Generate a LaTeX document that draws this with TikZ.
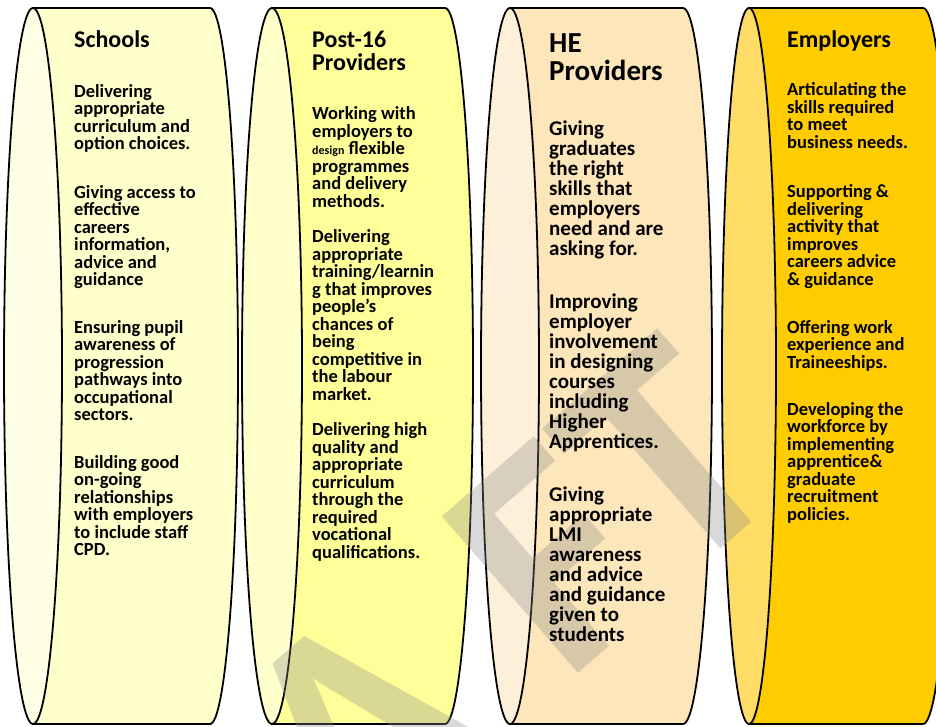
\documentclass[tikz,border=0pt]{standalone}
\usepackage{fontspec}
\setmainfont{Carlito}
\usepackage{xcolor}
\definecolor{schoolBody}{HTML}{FFFFCC}
\definecolor{schoolCap}{HTML}{FFFFE6}
\definecolor{postBody}{HTML}{FFFF99}
\definecolor{postCap}{HTML}{FFFFCC}
\definecolor{heBody}{HTML}{FDE6BA}
\definecolor{heCap}{HTML}{FEF0D8}
\definecolor{empBody}{HTML}{FFCC00}
\definecolor{empCap}{HTML}{FFDC66}
\usepackage{tikz}

\begin{document}
\begin{tikzpicture}[x=1pt, y=-1pt,
    drum/.style={draw=black, line width=1.8pt},
    head/.style={anchor=base west, inner sep=0pt, align=left, font=\bfseries\fontsize{24}{22.5}\selectfont},
    duty/.style={anchor=base west, inner sep=0pt, align=left, font=\bfseries\fontsize{18.5}{17.5}\selectfont},
    bigduty/.style={duty, font=\bfseries\fontsize{21}{20}\selectfont}]
    \clip (0,0) rectangle (936,726);

    % Schools drum
    \path[drum, fill=schoolBody] (33,8) -- (210,8) arc[start angle=-90, end angle=90, x radius=28, y radius=358] -- (33,724) -- cycle;
    \path[drum, fill=schoolCap] (33,366) ellipse[x radius=29, y radius=358];

    % Post-16 drum
    \path[drum, fill=postBody] (272,8) -- (445,8) arc[start angle=-90, end angle=90, x radius=28, y radius=358] -- (272,724) -- cycle;
    \path[drum, fill=postCap] (272,366) ellipse[x radius=30, y radius=358];

    % HE drum
    \path[drum, fill=heBody] (510,8) -- (683,8) arc[start angle=-90, end angle=90, x radius=29, y radius=358] -- (510,724) -- cycle;
    \path[drum, fill=heCap] (510,366) ellipse[x radius=29, y radius=358];

    % Employers drum (runs off the right edge)
    \path[drum, fill=empBody] (749,8) -- (923,8) arc[start angle=-90, end angle=90, x radius=29, y radius=358] -- (749,724) -- cycle;
    \path[drum, fill=empCap] (749,366) ellipse[x radius=27, y radius=358];

    % watermark, letters spread out
    \node[anchor=north west, inner sep=0pt, rotate=41, text=black!45, text opacity=0.33,
          font=\bfseries\fontsize{320}{320}\selectfont] (draft) at (-164,1043) {D\kern60pt R\kern60pt A\kern90pt FT};

    % Schools (nodes sit on the baseline of their last line)
    \node[head] (schoolsHead) at (74,47) {Schools};
    \node[duty] (schools1) at (74,149.5) {Delivering\\appropriate\\curriculum and\\option choices.};
    \node[duty] (schools2) at (74,285.5) {Giving access to\\effective\\careers\\information,\\advice and\\guidance};
    \node[duty] (schools3) at (74,420.5) {Ensuring pupil\\awareness of\\progression\\pathways into\\occupational\\sectors.};
    \node[duty] (schools4) at (74,555.5) {Building good\\on-going\\relationships\\with employers\\to include staff\\CPD.};

    % Post-16
    \node[head] (postHead) at (312,70) {Post-16\\Providers};
    \node[duty] (post1) at (312,207) {Working with\\employers to\\{\fontsize{12}{12}\selectfont design} flexible\\programmes\\and delivery\\methods.};
    \node[duty] (post2) at (312,400) {Delivering\\appropriate\\training/learnin\\g that improves\\people’s\\chances of\\being\\competitive in\\the labour\\market.};
    \node[duty] (post3) at (312,558) {Delivering high\\quality and\\appropriate\\curriculum\\through the\\required\\vocational\\qualifications.};

    % HE
    \node[head, font=\bfseries\fontsize{29}{28}\selectfont] (heHead) at (549,80) {HE\\Providers};
    \node[bigduty] (he1) at (549,255) {Giving\\graduates\\the right\\skills that\\employers\\need and are\\asking for.};
    \node[bigduty] (he2) at (549,448) {Improving\\employer\\involvement\\in designing\\courses\\including\\Higher\\Apprentices.};
    \node[bigduty] (he3) at (549,641) {Giving\\appropriate\\LMI\\awareness\\and advice\\and guidance\\given to\\students};

    % Employers
    \node[head] (empHead) at (787,47) {Employers};
    \node[duty] (emp1) at (787,148) {Articulating the\\skills required\\to meet\\business needs.};
    \node[duty] (emp2) at (787,285) {Supporting \&\\delivering\\activity that\\improves\\careers advice\\\& guidance};
    \node[duty] (emp3) at (787,368) {Offering work\\experience and\\Traineeships.};
    \node[duty] (emp4) at (787,520) {Developing the\\workforce by\\implementing\\apprentice\&\\graduate\\recruitment\\policies.};
\end{tikzpicture}
\end{document}
